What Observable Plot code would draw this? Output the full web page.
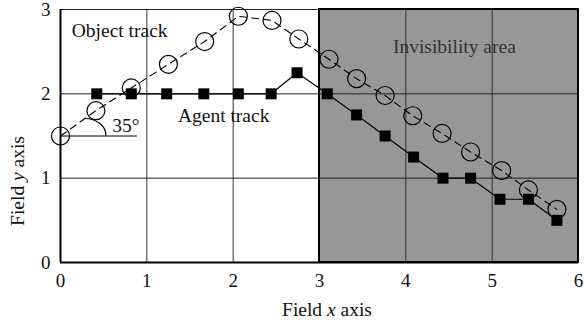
<!DOCTYPE html>
<html><head>
<meta charset="utf-8">
<script src="https://cdn.jsdelivr.net/npm/d3@7"></script>
<script src="https://cdn.jsdelivr.net/npm/@observablehq/plot@0.6"></script>
<style>
body{margin:0;background:#fff}
svg, svg text{font-family:"Liberation Serif","DejaVu Serif",serif !important}
</style>
</head><body><div id="chart"></div>
<script>
const objectX = [0, 0.41, 0.82, 1.25, 1.67, 2.06, 2.45, 2.76, 3.11, 3.43, 3.76, 4.08, 4.42, 4.75, 5.11, 5.42, 5.75];
const objectY = [1.5, 1.80, 2.07, 2.35, 2.62, 2.92, 2.87, 2.65, 2.41, 2.18, 1.98, 1.74, 1.53, 1.31, 1.09, 0.86, 0.63];
const agentX = [0.42, 0.82, 1.23, 1.66, 2.06, 2.44, 2.74, 3.09, 3.43, 3.76, 4.09, 4.43, 4.75, 5.09, 5.42, 5.75];
const agentY = [2.0, 2.0, 2.0, 2.0, 2.0, 2.0, 2.25, 2.0, 1.75, 1.5, 1.25, 1.0, 1.0, 0.75, 0.75, 0.5];
const xTicks = [0, 1, 2, 3, 4, 5, 6];
const yTicks = [0, 1, 2, 3];
const area = [{x1: 3, x2: 6, y1: 0, y2: 3}];
const angleDeg = 35;

const objectData = objectX.map((x, i) => ({x, y: objectY[i]}));
const agentData = agentX.map((x, i) => ({x, y: agentY[i]}));

const FS = 19.5;
const plot = Plot.plot({
  width: 586, height: 325,
  marginLeft: 60, marginRight: 8, marginTop: 9, marginBottom: 63,
  style: {fontFamily: "Liberation Serif, serif", fontSize: "19px", color: "#111", background: "#fff"},
  x: {domain: [0, 6], ticks: xTicks, tickFormat: "d", tickSize: 0, tickPadding: 11, label: null},
  y: {domain: [0, 3], ticks: yTicks, tickFormat: "d", tickSize: 0, tickPadding: 10, label: null},
  marks: [
    Plot.rect(area, {x1: "x1", x2: "x2", y1: "y1", y2: "y2", fill: "#979797"}),
    Plot.ruleX(xTicks.slice(1, 6), {stroke: "#333", strokeWidth: 1}),
    Plot.ruleY(yTicks.slice(1), {stroke: "#222", strokeWidth: 1}),
    Plot.rect(area, {x1: "x1", x2: "x2", y1: "y1", y2: "y2", fill: "none", stroke: "#000", strokeWidth: 2}),
    Plot.ruleX([0], {stroke: "#000", strokeWidth: 2}),
    Plot.ruleY([0], {stroke: "#000", strokeWidth: 2}),
    Plot.ruleY([objectY[0]], {x1: 0, x2: 0.89, stroke: "#000", strokeWidth: 1.2}),
    Plot.line(objectData, {x: "x", y: "y", stroke: "#000", strokeWidth: 1.1, strokeDasharray: "7,5"}),
    Plot.dot(objectData, {x: "x", y: "y", r: 9, stroke: "#000", strokeWidth: 1.2, fill: "none"}),
    Plot.line(agentData, {x: "x", y: "y", stroke: "#000", strokeWidth: 1.2}),
    Plot.dot(agentData, {x: "x", y: "y", symbol: "square", r: 6.2, fill: "#000", stroke: "none"}),
    Plot.text(["Object track"], {x: 0.13, y: 2.75, text: d => d, textAnchor: "start", fontSize: FS, fill: "#111"}),
    Plot.text(["Agent track"], {x: 1.36, y: 1.74, text: d => d, textAnchor: "start", fontSize: FS, fill: "#111"}),
    Plot.text(["Invisibility area"], {x: 3.85, y: 2.56, text: d => d, textAnchor: "start", fontSize: FS, fill: "#333"}),
    Plot.text([angleDeg + "°"], {x: 0.6, y: 1.62, text: d => d, textAnchor: "start", fontSize: FS, fill: "#111"})
  ]
});

const svg = d3.select(plot);
const xs = plot.scale("x"), ys = plot.scale("y");
// angle arc
const cx = xs.apply(0) + 25, cy = ys.apply(objectY[0]);
svg.append("path")
  .attr("d", `M${cx},${cy - 17} A21,17 0 0 1 ${cx + 21},${cy}`)
  .attr("fill", "none").attr("stroke", "#000").attr("stroke-width", 1.2);
// axis labels with italics
const xl = svg.append("text").attr("x", 327).attr("y", 316).attr("text-anchor", "middle")
  .attr("font-size", FS).attr("fill", "#111");
xl.append("tspan").text("Field ");
xl.append("tspan").attr("font-style", "italic").text("x");
xl.append("tspan").text(" axis");
const yl = svg.append("text").attr("transform", "translate(24,181) rotate(-90)").attr("text-anchor", "middle")
  .attr("font-size", FS).attr("fill", "#111");
yl.append("tspan").text("Field ");
yl.append("tspan").attr("font-style", "italic").text("y");
yl.append("tspan").text(" axis");

document.getElementById("chart").append(plot);
</script>
</body></html>
